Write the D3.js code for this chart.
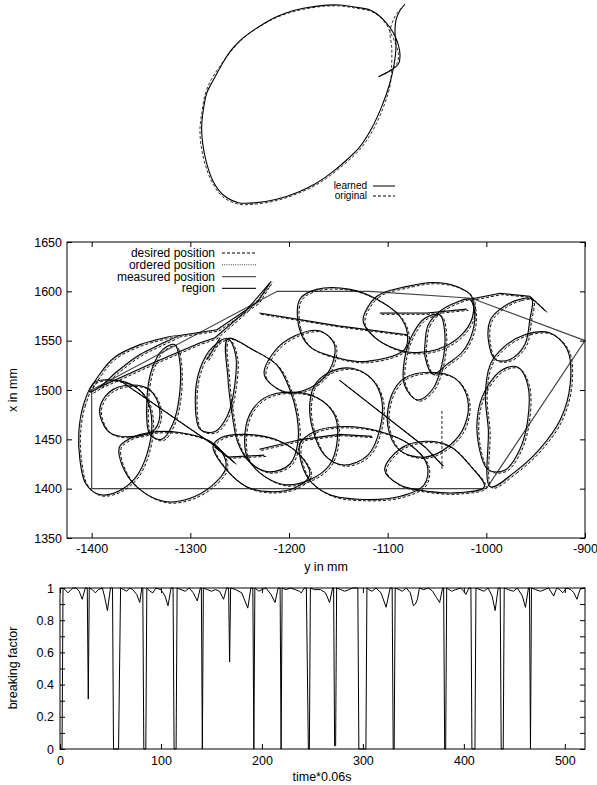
<!DOCTYPE html>
<html>
<head>
<meta charset="utf-8">
<script src="https://cdn.jsdelivr.net/npm/d3@7"></script>
<style>
  body { margin: 0; background: #fff; }
  text { font-family: "Liberation Sans", Arial, Helvetica, sans-serif; }
</style>
</head>
<body>
<svg id="chart" width="597" height="785"></svg>
<script>
// ---- top panel: learned vs original loop (arbitrary plot units, no axes)
const learnedLoop = [[565,230],[600,212],[625,192],[630,165],[622,125],[608,95],[590,70],[565,45],[540,30],[500,22],[450,15],[400,16],[340,25],[290,38],[250,55],[215,75],[180,98],[150,122],[120,155],[95,195],[70,240],[50,280],[40,330],[35,380],[38,430],[50,490],[70,545],[100,585],[145,608],[200,608],[260,598],[320,578],[375,552],[425,518],[470,480],[510,440],[545,385],[575,320],[598,255],[612,195],[618,140],[615,95],[618,60],[628,35],[645,12]];
const originalLoop = [[570,228],[605,208],[622,188],[625,160],[612,120],[600,95],[588,72],[566,47],[540,33],[500,25],[450,18],[400,19],[340,28],[290,41],[248,58],[212,78],[178,100],[148,126],[118,160],[90,198],[62,242],[45,285],[36,335],[30,385],[33,435],[46,495],[67,548],[98,590],[143,612],[200,612],[262,601],[322,581],[378,555],[428,521],[474,483],[514,443],[550,388],[580,322],[600,258],[605,195],[605,140],[600,95],[612,55],[625,35],[640,18]];

// ---- middle panel: trajectory loops, [y in mm, x in mm]
const trajLoops = [
  [[-1397,1508],[-1408,1486],[-1413,1458],[-1412,1430],[-1406,1405],[-1392,1394],[-1372,1398],[-1355,1412],[-1344,1435],[-1339,1466],[-1344,1490],[-1357,1504],[-1377,1510]],
  [[-1372,1442],[-1367,1419],[-1351,1399],[-1326,1387],[-1301,1390],[-1278,1403],[-1264,1421],[-1268,1437],[-1282,1449],[-1311,1457],[-1341,1457],[-1361,1451]],
  [[-1402,1498],[-1392,1516],[-1377,1533],[-1351,1546],[-1326,1553],[-1313,1555],[-1331,1546],[-1351,1536],[-1374,1519],[-1392,1503]],
  [[-1341,1455],[-1344,1490],[-1339,1521],[-1328,1541],[-1316,1546],[-1311,1531],[-1311,1495],[-1318,1465],[-1329,1450]],
  [[-1290,1460],[-1295,1493],[-1290,1522],[-1278,1543],[-1262,1552],[-1254,1535],[-1255,1505],[-1262,1475],[-1275,1458]],
  [[-1262,1552],[-1237,1541],[-1212,1525],[-1199,1500],[-1192,1474],[-1191,1447],[-1199,1425],[-1220,1417],[-1240,1427],[-1252,1447],[-1258,1478],[-1262,1513]],
  [[-1189,1592],[-1190,1564],[-1179,1544],[-1148,1532],[-1121,1529],[-1083,1541],[-1080,1557],[-1088,1575],[-1111,1592],[-1138,1602],[-1172,1602]],
  [[-1125,1571],[-1111,1595],[-1080,1605],[-1054,1609],[-1030,1605],[-1015,1595],[-1014,1574],[-1027,1554],[-1050,1541],[-1075,1538],[-1098,1544],[-1118,1558]],
  [[-1062,1549],[-1059,1566],[-1047,1580],[-1030,1589],[-1017,1592],[-1012,1580],[-1014,1559],[-1024,1539],[-1040,1526],[-1054,1516],[-1062,1533]],
  [[-1245,1450],[-1240,1475],[-1225,1492],[-1199,1498],[-1171,1492],[-1154,1475],[-1151,1450],[-1159,1424],[-1179,1409],[-1204,1404],[-1227,1414],[-1242,1431]],
  [[-1174,1505],[-1159,1518],[-1136,1522],[-1116,1511],[-1106,1490],[-1108,1460],[-1120,1434],[-1144,1424],[-1164,1434],[-1176,1460],[-1179,1485]],
  [[-1096,1495],[-1083,1512],[-1057,1518],[-1032,1512],[-1019,1491],[-1022,1464],[-1037,1444],[-1062,1432],[-1088,1439],[-1100,1464]],
  [[-1103,1419],[-1088,1440],[-1062,1448],[-1037,1443],[-1017,1424],[-1002,1402],[-1027,1396],[-1057,1397],[-1088,1404]],
  [[-1189,1445],[-1174,1458],[-1144,1463],[-1108,1458],[-1078,1445],[-1060,1424],[-1063,1404],[-1088,1392],[-1124,1389],[-1159,1394],[-1181,1411]],
  [[-1277,1443],[-1265,1421],[-1243,1402],[-1220,1397],[-1194,1401],[-1179,1414],[-1189,1434],[-1214,1450],[-1245,1455],[-1268,1452]],
  [[-996,1402],[-971,1417],[-946,1440],[-925,1470],[-915,1506],[-918,1541],[-936,1558],[-961,1556],[-983,1543],[-996,1526],[-1001,1495],[-998,1460]],
  [[-1008,1480],[-998,1505],[-983,1521],[-968,1523],[-958,1505],[-958,1470],[-966,1440],[-981,1419],[-998,1419],[-1008,1445]],
  [[-986,1582],[-966,1592],[-954,1592],[-956,1571],[-961,1546],[-976,1531],[-991,1531],[-998,1551],[-996,1571]],
  [[-1225,1515],[-1214,1540],[-1194,1555],[-1169,1560],[-1154,1546],[-1159,1520],[-1179,1502],[-1204,1498]],
  [[-1083,1531],[-1075,1556],[-1062,1573],[-1047,1576],[-1042,1556],[-1045,1526],[-1055,1500],[-1070,1490],[-1083,1505]],
  [[-1392,1480],[-1382,1498],[-1361,1505],[-1341,1500],[-1331,1480],[-1336,1460],[-1357,1453],[-1382,1457]]
];
const trajStrands = [
  [[-1392,1503],[-1341,1526],[-1290,1548],[-1275,1553],[-1245,1579],[-1218,1610]],
  [[-1372,1510],[-1273,1442],[-1255,1426]],
  [[-1313,1555],[-1273,1561],[-1232,1589],[-1220,1608]],
  [[-1283,1531],[-1270,1553]],
  [[-1230,1578],[-1150,1565],[-1080,1556]],
  [[-1108,1578],[-1060,1578],[-1020,1582]],
  [[-1149,1510],[-1062,1442],[-1044,1423]],
  [[-1230,1440],[-1187,1450],[-1149,1455],[-1116,1453]],
  [[-1017,1592],[-986,1598],[-956,1595],[-940,1580]],
  [[-1275,1442],[-1262,1432],[-1225,1434]]
];
const desiredOnly = [[-1045,1420],[-1045,1480]];
const region = [[-1400,1400],[-1400,1500],[-1212,1600],[-1118,1600],[-1015,1593],[-900,1550],[-1000,1400],[-1400,1400]];
const posXTicks = [-1400,-1300,-1200,-1100,-1000,-900];
const posYTicks = [1350,1400,1450,1500,1550,1600,1650];
const posLegend = ["desired position","ordered position","measured position","region"];

// ---- bottom panel: breaking factor over time
const tSteps = [0,2,3,5,8,11,13,16,19,22,25,27,28,29,32,35,38,42,44,47,50,52,53,58,60,63,66,69,72,76,79,81,82,83,85,86,89,92,95,100,104,107,110,112,113,115,116,120,124,128,132,136,139,140,141,142,146,150,154,158,162,165,167,168,169,174,180,186,189,191,192,193,197,200,204,209,213,216,218,219,220,224,228,233,237,239,242,244,246,247,248,252,258,263,267,270,271,272,273,274,278,282,286,290,293,295,296,303,304,306,309,313,318,323,327,329,330,331,332,336,339,343,347,350,352,354,356,360,365,369,373,376,379,380,381,382,383,388,392,397,400,402,405,407,408,411,412,416,420,424,428,431,434,436,437,439,440,444,449,453,458,461,464,465,466,467,471,476,480,484,489,492,495,498,502,506,509,512,515,518,520];
const breakFactor = [0,0,1,0.99,0.97,0.99,1,1,0.98,0.93,1,1,0.31,1,0.99,0.97,0.99,1,0.95,0.86,1,1,0,0,1,0.99,0.98,1,0.99,0.96,0.91,1,1,0,0,1,0.98,0.97,1,0.99,0.95,0.89,1,1,0,0,1,0.99,0.98,1,0.97,0.92,1,1,0,1,0.99,0.98,0.99,0.98,0.93,1,1,0.54,1,0.99,0.97,0.875,1,1,0,1,0.98,0.99,1,0.96,0.91,1,1,0,1,0.99,1,0.99,0.98,0.97,1,1,0,0,1,0.99,0.99,0.97,0.91,1,1,0.02,0.02,1,0.99,0.98,0.99,1,1,1,0,0,1,0.99,0.98,1,0.97,0.88,1,1,0,0,1,0.99,0.98,1,0.97,0.89,0.9,0.93,1,0.99,1,0.98,0.94,0.91,1,1,0,0,1,0.98,0.99,1,0.98,0.96,1,1,0,0,1,0.99,0.98,1,0.95,0.86,1,1,0,0,1,0.99,0.98,1,0.95,0.88,1,1,0,1,0.99,0.98,0.99,1,0.95,1,0.99,0.97,1,0.99,0.97,0.93,0.99,1,1];
const timeTicks = [0,100,200,300,400,500];
const factorTicks = [0,0.1,0.2,0.3,0.4,0.5,0.6,0.7,0.8,0.9,1];

const svg = d3.select("#chart");
const FS = "12.5px";

// ============ top panel
const tx = d3.scaleLinear().domain([0,690]).range([190,420]);
const ty = d3.scaleLinear().domain([0,630]).range([0,210]);
const topLine = d3.line().x(d => tx(d[0])).y(d => ty(d[1])).curve(d3.curveCatmullRom);

svg.append("path").attr("d", topLine(originalLoop))
  .attr("fill","none").attr("stroke","#333").attr("stroke-width",1).attr("stroke-dasharray","3,2");
svg.append("path").attr("d", topLine(learnedLoop))
  .attr("fill","none").attr("stroke","#000").attr("stroke-width",1.1);

const topLeg = svg.append("g").attr("id","top-legend");
[["learned", null],["original","3,2"]].forEach((e,i) => {
  const yy = 186 + i*10;
  topLeg.append("text").attr("x",367).attr("y",yy).attr("dy","0.33em")
    .attr("text-anchor","end").attr("font-size","10px").text(e[0]);
  topLeg.append("line").attr("x1",373).attr("x2",395).attr("y1",yy).attr("y2",yy)
    .attr("stroke","#000").attr("stroke-width",1).attr("stroke-dasharray",e[1]);
});

// ============ axis frame helper (gnuplot style, inward ticks, mirrored)
function frame(sx, sy, xt, yt, xFmt, yFmt, padX, padY) {
  const [x0,x1] = sx.range(), [y0,y1] = sy.range();
  const style = g => {
    g.select(".domain").remove();
    g.selectAll("line").attr("stroke","#000");
    g.selectAll("text").attr("font-size",FS).attr("fill","#000")
      .attr("font-family",'"Liberation Sans", Arial, sans-serif');
  };
  svg.append("g").attr("transform",`translate(0,${y0})`)
    .call(d3.axisBottom(sx).tickValues(xt).tickSizeInner(-5).tickSizeOuter(0).tickPadding(padX).tickFormat(xFmt)).call(style);
  svg.append("g").attr("transform",`translate(0,${y1})`)
    .call(d3.axisTop(sx).tickValues(xt).tickSizeInner(-5).tickSizeOuter(0).tickFormat("")).call(style);
  svg.append("g").attr("transform",`translate(${x0},0)`)
    .call(d3.axisLeft(sy).tickValues(yt).tickSizeInner(-5).tickSizeOuter(0).tickPadding(padY).tickFormat(yFmt)).call(style);
  svg.append("g").attr("transform",`translate(${x1},0)`)
    .call(d3.axisRight(sy).tickValues(yt).tickSizeInner(-5).tickSizeOuter(0).tickFormat("")).call(style);
  svg.append("rect").attr("x",x0).attr("y",y1).attr("width",x1-x0).attr("height",y0-y1)
    .attr("fill","none").attr("stroke","#000").attr("stroke-width",1);
}
const plain = d => String(d);

// ============ middle panel
const mx = d3.scaleLinear().domain([-1425,-900]).range([67,585]);
const my = d3.scaleLinear().domain([1350,1650]).range([538,242]);
const loopLine = d3.line().x(d => mx(d[0])).y(d => my(d[1])).curve(d3.curveCatmullRomClosed);
const strandLine = d3.line().x(d => mx(d[0])).y(d => my(d[1]));

const viz = svg.append("g").attr("id","trajectory");
viz.append("path").attr("d", strandLine(region))
  .attr("fill","none").attr("stroke","#444").attr("stroke-width",1.2);

const layers = [
  {dx:1.8, dy:1.3, stroke:"#111", dash:"3,2", w:1},      // desired
  {dx:0.9, dy:0.6, stroke:"#555", dash:"1,1.2", w:0.8},  // ordered
  {dx:0, dy:0, stroke:"#000", dash:null, w:1.1}          // measured
];
layers.forEach(l => {
  const g = viz.append("g").attr("transform",`translate(${l.dx},${l.dy})`)
    .attr("fill","none").attr("stroke",l.stroke).attr("stroke-width",l.w)
    .attr("stroke-dasharray",l.dash);
  g.selectAll("path.loop").data(trajLoops).join("path").attr("class","loop").attr("d", loopLine);
  g.selectAll("path.strand").data(trajStrands).join("path").attr("class","strand").attr("d", strandLine);
});
viz.append("path").attr("d", strandLine(desiredOnly))
  .attr("fill","none").attr("stroke","#222").attr("stroke-dasharray","3,2");

frame(mx, my, posXTicks, posYTicks, plain, plain, 6, 5);

const legStyles = [
  {stroke:"#000", dash:"3,2"},
  {stroke:"#444", dash:"1,1.2"},
  {stroke:"#555", dash:null},
  {stroke:"#222", dash:null}
];
const midLeg = svg.append("g").attr("id","legend");
posLegend.forEach((name,i) => {
  const yy = 253 + i*11.8;
  midLeg.append("text").attr("x",215).attr("y",yy).attr("dy","0.33em")
    .attr("text-anchor","end").attr("font-size","12px").text(name);
  midLeg.append("line").attr("x1",222).attr("x2",256).attr("y1",yy).attr("y2",yy)
    .attr("stroke",legStyles[i].stroke).attr("stroke-width",1.1).attr("stroke-dasharray",legStyles[i].dash);
});

svg.append("text").attr("x",326).attr("y",571).attr("text-anchor","middle").attr("font-size",FS).text("y in mm");
svg.append("text").attr("transform","translate(17,390) rotate(-90)").attr("text-anchor","middle")
  .attr("font-size",FS).text("x in mm");

// ============ bottom panel
const bx = d3.scaleLinear().domain([0,520]).range([60,585]);
const by = d3.scaleLinear().domain([0,1]).range([749,588]);
const bfLine = d3.line().x((d,i) => bx(tSteps[i])).y(d => by(d));

svg.append("path").attr("d", bfLine(breakFactor))
  .attr("fill","none").attr("stroke","#000").attr("stroke-width",1);

frame(bx, by, timeTicks, factorTicks, plain,
  d => (Math.round(d*10) % 2 === 0) ? String(+d.toFixed(1)) : "", 7, 6);

svg.append("text").attr("x",322).attr("y",781).attr("text-anchor","middle").attr("font-size",FS).text("time*0.06s");
svg.append("text").attr("transform","translate(17,668) rotate(-90)").attr("text-anchor","middle")
  .attr("font-size",FS).text("breaking factor");
</script>
</body>
</html>
